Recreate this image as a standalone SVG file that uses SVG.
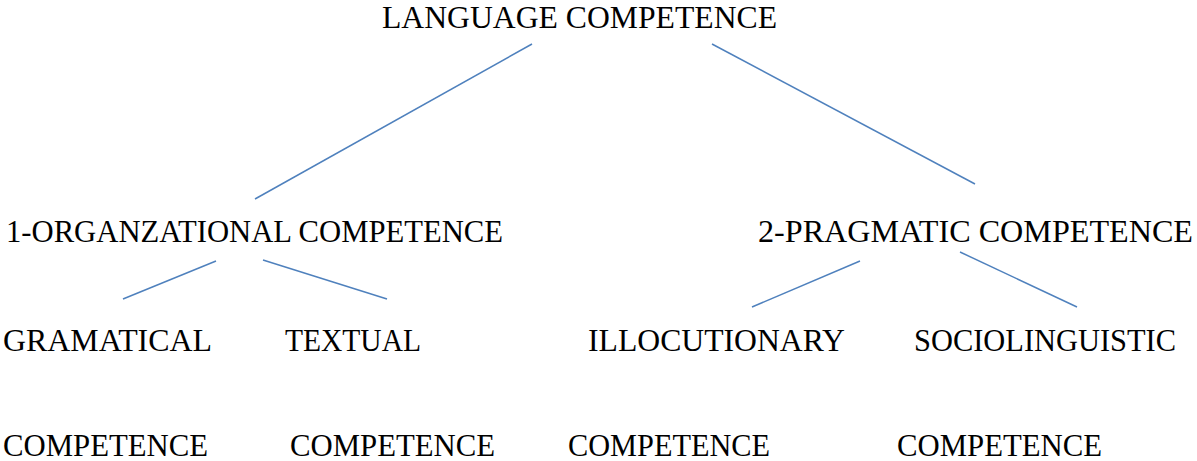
<svg xmlns="http://www.w3.org/2000/svg" width="1197" height="461" viewBox="0 0 1197 461">
<style>
text{font-family:"Liberation Serif","DejaVu Serif","Times New Roman",serif;font-size:31px;fill:#000}
.c line{stroke:#4f81bd;stroke-width:1.5;fill:none}
</style>
<rect width="1197" height="461" fill="#fff"/>
<g class="c" id="connectors">
<line x1="532" y1="44" x2="255" y2="199"/>
<line x1="712" y1="44" x2="975" y2="184"/>
<line x1="216" y1="261" x2="123" y2="299"/>
<line x1="263" y1="260" x2="387" y2="299"/>
<line x1="860" y1="261" x2="752" y2="307"/>
<line x1="960" y1="252" x2="1077" y2="307"/>
</g>
<g id="root"><text x="382" y="28" textLength="395" lengthAdjust="spacingAndGlyphs">LANGUAGE COMPETENCE</text></g>
<g id="organizational"><text x="6" y="242" textLength="497" lengthAdjust="spacingAndGlyphs">1-ORGANZATIONAL COMPETENCE</text></g>
<g id="pragmatic"><text x="758" y="242" textLength="435" lengthAdjust="spacingAndGlyphs">2-PRAGMATIC COMPETENCE</text></g>
<g id="gramatical">
<text x="3" y="351" textLength="209" lengthAdjust="spacingAndGlyphs">GRAMATICAL</text>
<text x="3" y="456" textLength="205" lengthAdjust="spacingAndGlyphs">COMPETENCE</text>
</g>
<g id="textual">
<text x="285" y="351" textLength="136" lengthAdjust="spacingAndGlyphs">TEXTUAL</text>
<text x="290" y="456" textLength="205" lengthAdjust="spacingAndGlyphs">COMPETENCE</text>
</g>
<g id="illocutionary">
<text x="588" y="351" textLength="257" lengthAdjust="spacingAndGlyphs">ILLOCUTIONARY</text>
<text x="568" y="456" textLength="202" lengthAdjust="spacingAndGlyphs">COMPETENCE</text>
</g>
<g id="sociolinguistic">
<text x="914" y="351" textLength="262" lengthAdjust="spacingAndGlyphs">SOCIOLINGUISTIC</text>
<text x="897" y="456" textLength="205" lengthAdjust="spacingAndGlyphs">COMPETENCE</text>
</g>
</svg>
